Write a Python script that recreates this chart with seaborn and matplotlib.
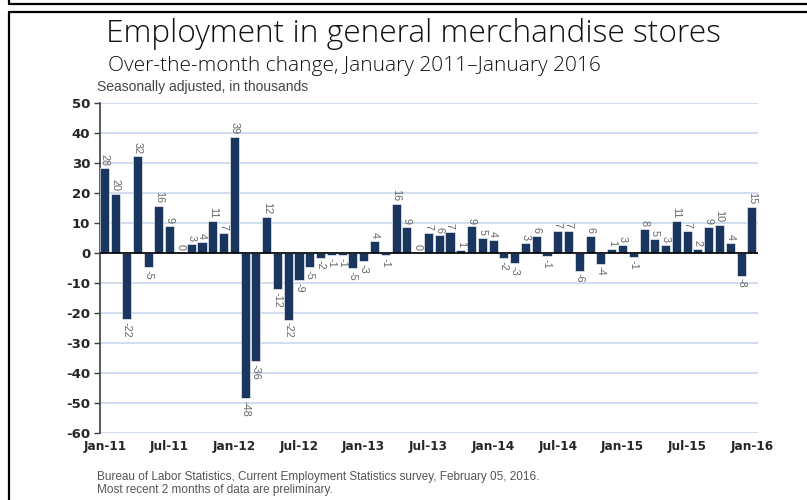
import matplotlib
matplotlib.use('Agg')
import matplotlib.pyplot as plt
import matplotlib.lines as mlines
import pandas as pd
import numpy as np
import seaborn as sns

# Data: over-the-month change, thousands (Jan 2011 - Jan 2016)
months = pd.date_range("2011-01-01", "2016-01-01", freq="MS").strftime("%b-%y").tolist()
changes = [28.2, 19.8, -22.1, 32.2, -4.6, 15.6, 9.1, 0.2, 3.1, 3.7, 10.6, 6.6,
           38.7, -48.3, -36.0, 12.1, -12.1, -22.2, -9.0, -4.7, -1.6, -0.6, -0.7, -5.0,
           -2.6, 4.0, -0.8, 16.4, 8.8, 0.2, 6.6, 5.9, 7.0, 1.0, 8.9, 5.1,
           4.4, -1.8, -3.4, 3.4, 5.8, -1.0, 7.3, 7.3, -5.9, 5.8, -3.6, 1.4,
           2.8, -1.4, 8.0, 4.8, 2.7, 10.7, 7.3, 1.5, 8.8, 9.5, 3.5, -7.6,
           15.3]
tick_labels = ["Jan-11", "Jul-11", "Jan-12", "Jul-12", "Jan-13", "Jul-13",
               "Jan-14", "Jul-14", "Jan-15", "Jul-15", "Jan-16"]

df = pd.DataFrame({"month": months, "change": changes})

bar_color = "#1a365f"
grid_color = "#c9d8ec"

sns.set_style("white")
plt.rcParams["axes.unicode_minus"] = False
fig = plt.figure(figsize=(8.07, 5.0), dpi=100)
ax = fig.add_axes([0.1239, 0.134, 0.8154, 0.66])

sns.barplot(data=df, x="month", y="change", color=bar_color, width=0.84,
            edgecolor="white", linewidth=0.4, saturation=1, ax=ax, zorder=3)

# value labels, rotated
for i, v in enumerate(changes):
    lbl = f"{int(round(v))}"
    if v >= 0:
        ax.text(i, v + 0.9, lbl, rotation=270, ha="center", va="bottom",
                fontsize=7.8, color="#666666", family="Liberation Sans")
    else:
        ax.text(i, v - 0.9, lbl, rotation=270, ha="center", va="top",
                fontsize=7.8, color="#666666", family="Liberation Sans")

ax.set_xlim(-0.46, 60.57)
ax.set_ylim(-60, 50)
ax.set_yticks(range(-60, 51, 10))
ax.yaxis.grid(True, color=grid_color, linewidth=1.2, zorder=0)
ax.set_axisbelow(True)
ax.axhline(0, color="black", linewidth=1.2, zorder=4)

ax.set_xticks(range(0, 61, 6))
ax.set_xticklabels(tick_labels, fontweight="bold", fontsize=8.7, family="DejaVu Sans")
for t in ax.get_yticklabels():
    t.set_fontweight("bold")
    t.set_fontsize(9.5)
    t.set_family("DejaVu Sans")
ax.tick_params(axis="x", length=0, pad=5)
ax.tick_params(axis="y", length=4, width=1, color="#404040", direction="out", pad=3, left=True)
ax.set_xlabel("")
ax.set_ylabel("")

for s in ["top", "right", "bottom"]:
    ax.spines[s].set_visible(False)
ax.spines["left"].set_color("#404040")
ax.spines["left"].set_linewidth(1.2)

# titles
fig.text(413 / 807, 1 - 34 / 500, "Employment in general merchandise stores",
         ha="center", va="center", fontsize=22.8, family="Open Sans", fontweight="light", color="#111111")
fig.text(108 / 807, 1 - 66 / 500, "Over-the-month change, January 2011\u2013January 2016",
         ha="left", va="center", fontsize=15, family="Open Sans", fontweight="light", color="#111111")
fig.text(97 / 807, 1 - 87 / 500, "Seasonally adjusted, in thousands",
         ha="left", va="center", fontsize=10, family="Liberation Sans", color="#444444")
fig.text(97 / 807, 1 - 477 / 500, "Bureau of Labor Statistics, Current Employment Statistics survey, February 05, 2016.",
         ha="left", va="center", fontsize=8.5, family="Liberation Sans", color="#555555")
fig.text(97 / 807, 1 - 490 / 500, "Most recent 2 months of data are preliminary.",
         ha="left", va="center", fontsize=8.5, family="Liberation Sans", color="#555555")

# frame lines
def px_line(x0, y0, x1, y1):
    fig.add_artist(mlines.Line2D([x0 / 807, x1 / 807], [1 - y0 / 500, 1 - y1 / 500],
                                 color="black", linewidth=1.6, transform=fig.transFigure))

px_line(9, 4, 807, 4)
px_line(9, 0, 9, 4)
px_line(9, 12, 807, 12)
px_line(9, 12, 9, 500)

fig.savefig("out.png", dpi=100)
